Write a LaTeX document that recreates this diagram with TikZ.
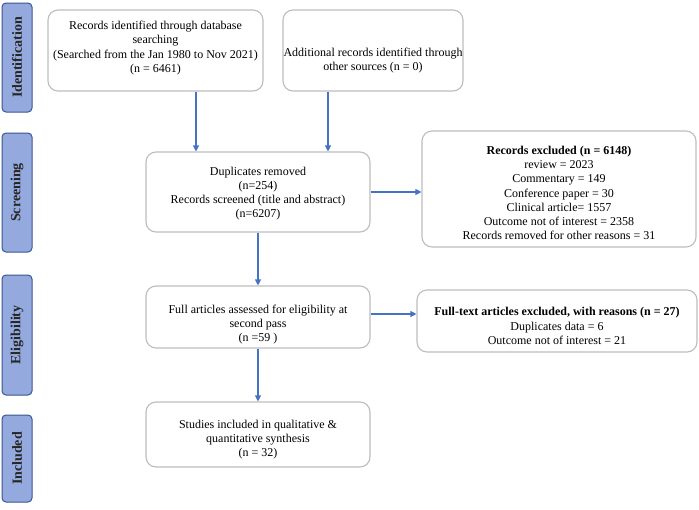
\documentclass[tikz,border=0pt]{standalone}
\usepackage{fontspec}
\setmainfont{Liberation Serif}
\usetikzlibrary{arrows.meta}
\definecolor{boxgray}{HTML}{BDBDBD}
\definecolor{arrblue}{HTML}{4472C4}
\definecolor{sidefill}{HTML}{94AADF}
\definecolor{sideline}{HTML}{3A5590}
\begin{document}
\begin{tikzpicture}[x=1pt,y=-1pt,
  box/.style={draw=boxgray, line width=1.1pt, rounded corners=10pt, fill=white, inner sep=0pt},
  txt/.style={align=center, font=\fontsize{12}{14.2}\selectfont, inner sep=0pt},
  side/.style={draw=sideline, line width=1pt, fill=sidefill, rounded corners=4pt, rotate=90,
    font=\fontsize{14}{16}\selectfont\bfseries, text=black!85, inner sep=0pt, minimum height=30pt},
  arr/.style={draw=arrblue, line width=1.1pt, -{Triangle[length=6pt,width=6pt]}}]
\useasboundingbox (0,0) rectangle (699,509);
% side labels
\node[side, minimum width=109pt] (s1) at (17,57.5) {Identification};
\node[side, minimum width=119pt] (s2) at (17,192.5) {Screening};
\node[side, minimum width=120pt] (s3) at (17,335) {Eligibility};
\node[side, minimum width=87pt] (s4) at (17,458.5) {Included};
% boxes
\node[box, minimum width=215pt, minimum height=81pt] (b1) at (155.5,50.5) {};
\node[box, minimum width=180pt, minimum height=81pt] (b2) at (373,50.5) {};
\node[box, minimum width=224pt, minimum height=80pt] (dup) at (258,192) {};
\node[box, minimum width=274pt, minimum height=116pt] (ex1) at (559,189) {};
\node[box, minimum width=224pt, minimum height=62pt] (full) at (258,317) {};
\node[box, minimum width=280pt, minimum height=62pt] (ex2) at (557,321) {};
\node[box, minimum width=224pt, minimum height=65pt] (inc) at (258,434.5) {};
% texts
\node[txt] (t1) at ([yshift=2.5pt]b1.center)
  {Records identified through database\\searching\\(Searched from the Jan 1980 to Nov 2021)\\(n = 6461)};
\node[txt] (t2) at ([yshift=-10pt]b2.center)
  {Additional records identified through\\other sources (n = 0)};
\node[txt] (t3) at ([yshift=-1.5pt]dup.center)
  {Duplicates removed\\(n=254)\\Records screened (title and abstract)\\(n=6207)};
\node[txt] (t4) at ([yshift=-4pt]ex1.center)
  {\textbf{Records excluded (n = 6148)}\\review = 2023\\Commentary = 149\\Conference paper = 30\\Clinical article= 1557\\Outcome not of interest = 2358\\Records removed for other reasons = 31};
\node[txt] (t5) at ([yshift=-7.5pt]full.center)
  {Full articles assessed for eligibility at\\second pass\\(n =59 )};
\node[txt] (t6) at ([yshift=-5pt]ex2.center)
  {\textbf{Full-text articles excluded, with reasons (n = 27)}\\Duplicates data = 6\\Outcome not of interest = 21};
\node[txt] (t7) at ([yshift=-5pt]inc.center)
  {Studies included in qualitative \&\\quantitative synthesis\\(n = 32)};
% arrows
\draw[arr] ([xshift=40.5pt]b1.south) -- ([xshift=40.5pt]b1.south |- dup.north);
\draw[arr] ([xshift=-45pt]b2.south) -- ([xshift=-45pt]b2.south |- dup.north);
\draw[arr] (dup.east) -- (dup.east -| ex1.west);
\draw[arr] (dup.south) -- (full.north);
\draw[arr] ([yshift=3pt]full.east) -- ([yshift=3pt]full.east -| ex2.west);
\draw[arr] (full.south) -- (inc.north);
\end{tikzpicture}
\end{document}
